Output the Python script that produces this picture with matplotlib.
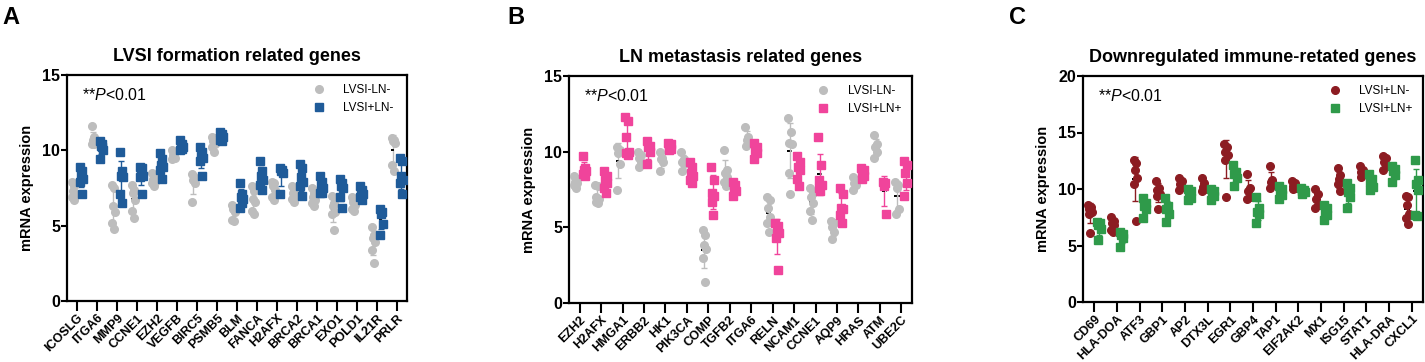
import numpy as np
import matplotlib
matplotlib.use('Agg')
import matplotlib.pyplot as plt
from matplotlib.lines import Line2D

plt.rcParams['font.family'] = ['Liberation Sans', 'DejaVu Sans']
plt.rcParams['mathtext.fontset'] = 'custom'
plt.rcParams['mathtext.it'] = 'Liberation Sans:italic'
plt.rcParams['mathtext.rm'] = 'Liberation Sans'

# ---- panel A: LVSI formation related genes
genes_a = ['ICOSLG', 'ITGA6', 'MMP9', 'CCNE1', 'EZH2', 'VEGFB', 'BIRC5', 'PSMB5', 'BLM',
           'FANCA', 'H2AFX', 'BRCA2', 'BRCA1', 'EXO1', 'POLD1', 'IL21R', 'PRLR']
a_neg_neg = [
    [7.9, 7.6, 7.3, 7.1, 6.9, 6.7],
    [11.6, 10.9, 10.7, 10.5, 10.4, 10.4],
    [7.7, 7.5, 6.3, 5.9, 5.15, 4.75],
    [7.7, 7.4, 7.2, 6.7, 6.0, 5.5],
    [8.5, 8.3, 8.1, 7.9, 7.8, 7.6],
    [10.0, 9.9, 9.7, 9.5, 9.4, 9.6],
    [8.4, 8.2, 8.0, 7.8, 6.6],
    [10.9, 10.8, 10.6, 10.4, 10.2, 9.9],
    [6.4, 6.2, 6.1, 5.9, 5.4, 5.3],
    [7.6, 7.3, 6.8, 6.6, 6.0, 5.8],
    [7.9, 7.8, 7.6, 7.4, 6.9, 6.7],
    [7.6, 7.4, 7.2, 7.0, 6.8, 6.6],
    [7.5, 7.2, 6.9, 6.7, 6.5, 6.3],
    [7.0, 6.5, 6.3, 5.9, 5.8, 4.7],
    [6.9, 6.8, 6.6, 6.4, 6.1, 6.0],
    [4.9, 4.4, 4.2, 3.9, 3.4, 2.5],
    [10.8, 10.7, 10.6, 10.5, 9.0, 8.6],
]
a_pos_neg = [
    [8.9, 8.6, 8.4, 8.1, 7.9, 7.1],
    [10.6, 10.4, 10.3, 10.0, 9.4, 10.2],
    [9.9, 8.6, 8.3, 8.2, 7.1, 6.5],
    [8.9, 8.8, 8.7, 8.3, 8.2, 7.1],
    [9.8, 9.4, 9.0, 8.9, 8.7, 8.1],
    [10.7, 10.4, 10.3, 10.2, 10.0, 10.1],
    [10.2, 9.9, 9.6, 9.5, 9.3, 8.3],
    [11.2, 11.1, 11.0, 10.9, 10.7, 10.6],
    [7.8, 7.1, 6.9, 6.8, 6.2, 6.5],
    [9.3, 8.6, 8.3, 8.0, 7.7, 7.4],
    [8.8, 8.7, 8.6, 8.5, 7.1],
    [9.1, 8.8, 8.2, 7.9, 7.6, 7.0],
    [8.3, 7.9, 7.7, 7.5, 7.2, 7.2],
    [8.1, 7.8, 7.6, 7.5, 6.9, 6.2],
    [7.6, 7.4, 7.3, 7.1, 6.9, 6.7],
    [6.1, 5.9, 5.8, 5.1, 4.4],
    [9.5, 9.3, 8.3, 8.0, 7.8, 7.1],
]

# ---- panel B: LN metastasis related genes
genes_b = ['EZH2', 'H2AFX', 'HMGA1', 'ERBB2', 'HK1', 'PIK3CA', 'COMP', 'TGFB2', 'ITGA6',
           'RELN', 'NCAM1', 'CCNE1', 'AQP9', 'HRAS', 'ATM', 'UBE2C']
b_neg_neg = [
    [8.4, 8.2, 8.0, 7.9, 7.8, 7.6],
    [7.8, 7.7, 7.0, 6.9, 6.7, 6.6],
    [10.3, 10.1, 9.9, 9.2, 7.5],
    [10.0, 9.8, 9.6, 9.3, 9.0],
    [10.0, 9.6, 9.5, 9.3, 8.7],
    [10.0, 9.5, 9.3, 9.2, 8.7],
    [4.8, 4.5, 3.8, 3.6, 2.95, 1.4],
    [10.1, 8.8, 8.6, 8.3, 8.0, 7.7],
    [11.6, 11.0, 10.8, 10.6, 10.4],
    [7.0, 6.8, 6.3, 5.7, 5.3, 4.7],
    [12.2, 11.3, 10.6, 10.5, 8.6, 7.2],
    [7.6, 7.3, 7.0, 6.6, 6.1, 5.5],
    [5.4, 5.3, 5.0, 4.7, 4.2],
    [8.3, 8.1, 7.9, 7.8, 7.5],
    [11.1, 10.5, 10.3, 10.0, 9.6],
    [8.0, 7.8, 7.6, 6.2, 5.9],
]
b_pos_pos = [
    [9.7, 8.9, 8.8, 8.7, 8.5, 8.4],
    [8.7, 8.4, 8.1, 7.9, 7.6, 7.3],
    [12.3, 12.0, 11.0, 10.0, 9.9, 9.8],
    [10.7, 10.4, 10.3, 10.0, 9.2],
    [10.6, 10.5, 10.3, 10.2, 10.1],
    [9.3, 9.0, 8.6, 8.4, 8.1, 7.9],
    [9.0, 8.1, 7.3, 7.1, 6.7, 5.8],
    [8.0, 7.8, 7.6, 7.4, 7.1],
    [10.6, 10.3, 10.1, 9.9, 9.5],
    [5.3, 5.1, 4.9, 4.6, 4.3, 2.2],
    [9.7, 9.3, 9.0, 8.8, 8.2, 7.7],
    [11.0, 9.1, 8.1, 7.8, 7.6, 7.4],
    [7.6, 7.2, 6.3, 6.2, 5.8, 5.3],
    [8.9, 8.8, 8.6, 8.4, 8.2],
    [8.0, 7.9, 7.7, 5.9],
    [9.4, 9.1, 8.6, 7.9, 7.1],
]

# ---- panel C: downregulated immune-related genes
genes_c = ['CD69', 'HLA-DOA', 'ATF3', 'GBP1', 'AP2', 'DTX3L', 'EGR1', 'GBP4', 'TAP1',
           'EIF2AK2', 'MX1', 'ISG15', 'STAT1', 'HLA-DRA', 'CXCL1']
c_pos_neg = [
    [8.6, 8.4, 8.2, 8.0, 7.8, 6.1],
    [7.5, 7.2, 7.0, 6.8, 6.4, 6.2],
    [12.6, 12.3, 11.7, 11.0, 10.4, 7.2],
    [10.7, 10.1, 9.9, 9.6, 9.4, 8.2],
    [11.0, 10.7, 10.4, 10.2, 9.9],
    [11.0, 10.5, 10.2, 10.0, 9.8],
    [14.0, 13.7, 13.3, 13.0, 12.6, 9.3],
    [11.3, 10.1, 9.8, 9.3, 9.1],
    [12.0, 10.8, 10.6, 10.4, 10.1],
    [10.7, 10.5, 10.3, 10.1, 10.0],
    [10.0, 9.6, 9.1, 8.6, 8.3],
    [11.9, 11.2, 10.9, 10.6, 10.4, 9.8],
    [12.0, 11.7, 11.5, 11.3, 11.1],
    [12.9, 12.7, 12.4, 12.1, 11.7],
    [9.4, 9.3, 8.6, 7.8, 7.4, 6.9],
]
c_pos_pos = [
    [7.1, 7.0, 6.8, 6.5, 5.5],
    [6.2, 6.0, 5.9, 5.7, 4.9],
    [9.2, 8.8, 8.5, 8.2, 7.4],
    [9.2, 8.5, 8.2, 7.8, 7.1],
    [10.0, 9.8, 9.6, 9.2, 9.0],
    [10.0, 9.8, 9.6, 9.4, 9.0],
    [12.1, 11.5, 11.3, 11.0, 10.3],
    [9.3, 8.3, 8.0, 7.8, 7.0],
    [10.3, 10.0, 9.8, 9.5, 9.1],
    [10.1, 9.9, 9.8, 9.7, 9.6],
    [8.6, 8.3, 7.9, 7.7, 7.3],
    [10.5, 10.1, 9.7, 9.3, 8.3],
    [11.3, 10.9, 10.6, 10.2, 9.9],
    [12.0, 11.8, 11.6, 11.2, 10.6],
    [12.6, 10.8, 10.4, 9.9, 7.7, 7.6],
]

GREY = '#bdbdbd'
BLUE = '#1f5b99'
PINK = '#f0449b'
RED = '#8c1c22'
GREEN = '#2f9a4a'

# small horizontal spread of the dots inside a group
jit = np.array([-0.07, 0.06, -0.02, 0.08, -0.05, 0.03])


def draw_panel(ax, genes, g1, g2, c1, c2, m1, m2, lab1, lab2, ymax, title):
    x = np.arange(len(genes))
    for grp, col, mk, off in [(g1, c1, m1, -0.2), (g2, c2, m2, 0.2)]:
        for i, vals in enumerate(grp):
            vals = np.array(vals)
            xs = x[i] + off + jit[:len(vals)]
            ax.errorbar(x[i] + off, vals.mean(), yerr=vals.std(ddof=1), color=col,
                        lw=1, capsize=2, capthick=1, zorder=2)
            ax.plot([x[i] + off - 0.12, x[i] + off + 0.12], [vals.mean()] * 2,
                    color='black', lw=1.4, ls=(0, (1.5, 0.8)), zorder=2.5)
            ax.plot(xs, vals, ls='none', marker=mk, ms=5.5, color=col, mec=col, zorder=3)
    ax.set_xlim(-0.5, len(genes) - 0.5)
    ax.set_ylim(0, ymax)
    ax.set_yticks(np.arange(0, ymax + 1, 5))
    ax.set_xticks(x)
    ax.set_xticklabels(genes, rotation=45, ha='right', rotation_mode='anchor',
                       fontsize=9, fontweight='bold')
    for t in ax.get_yticklabels():
        t.set_fontweight('bold')
        t.set_fontsize(11.5)
    ax.tick_params(axis='x', length=7, width=1.5, direction='out', pad=1)
    ax.tick_params(axis='y', length=4, width=1.5, direction='out', pad=1)
    for s in ax.spines.values():
        s.set_linewidth(1.6)
    ax.set_ylabel('mRNA expression', fontsize=10.5, fontweight='bold', labelpad=6)
    ax.set_title(title, fontsize=13, fontweight='bold', pad=10)
    ax.text(0.045, 0.91, r'**$P$<0.01', transform=ax.transAxes, fontsize=11.5,
            va='center', ha='left')
    handles = [Line2D([], [], ls='none', marker=m1, ms=5.5, color=c1),
               Line2D([], [], ls='none', marker=m2, ms=5.5, color=c2)]
    ax.legend(handles, [lab1, lab2], loc='upper left', bbox_to_anchor=(0.695, 1.0),
              frameon=False, fontsize=8.5, handletextpad=1.6, labelspacing=0.5,
              handlelength=1.0, borderaxespad=0.4)


fig = plt.figure(figsize=(14.25, 3.62), dpi=100)
ax_a = fig.add_axes([67 / 1425, 1 - 301 / 362, 340 / 1425, 226 / 362])
ax_b = fig.add_axes([569 / 1425, 1 - 303 / 362, 343 / 1425, 227 / 362])
ax_c = fig.add_axes([1083 / 1425, 1 - 302 / 362, 340 / 1425, 226 / 362])

draw_panel(ax_a, genes_a, a_neg_neg, a_pos_neg, GREY, BLUE, 'o', 's',
           'LVSI-LN-', 'LVSI+LN-', 15, 'LVSI formation related genes')
draw_panel(ax_b, genes_b, b_neg_neg, b_pos_pos, GREY, PINK, 'o', 's',
           'LVSI-LN-', 'LVSI+LN+', 15, 'LN metastasis related genes')
draw_panel(ax_c, genes_c, c_pos_neg, c_pos_pos, RED, GREEN, 'o', 's',
           'LVSI+LN-', 'LVSI+LN+', 20, 'Downregulated immune-retated genes')

fig.text(2 / 1425, 1 - 18 / 362, 'A', fontsize=17, fontweight='bold', va='center')
fig.text(507 / 1425, 1 - 18 / 362, 'B', fontsize=17, fontweight='bold', va='center')
fig.text(1009 / 1425, 1 - 18 / 362, 'C', fontsize=17, fontweight='bold', va='center')

fig.savefig('out.png', dpi=100)
